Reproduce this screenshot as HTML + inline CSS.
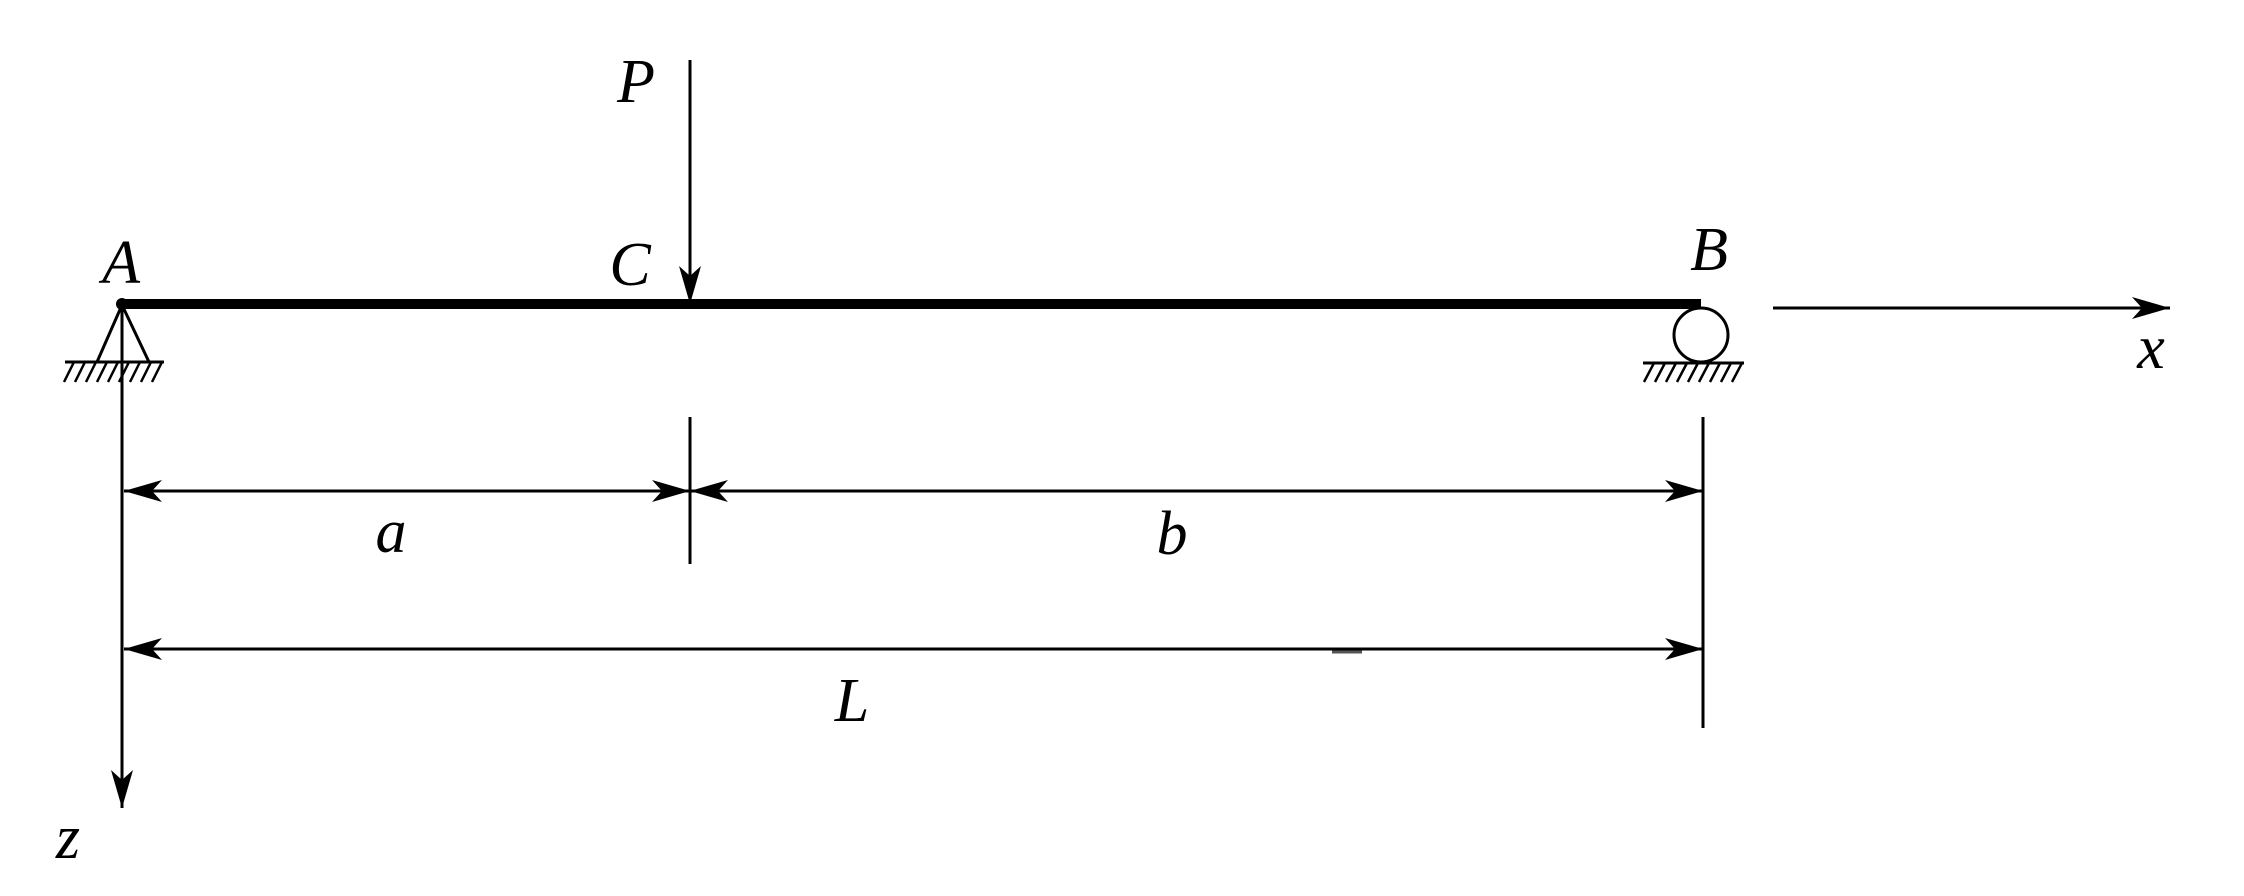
<!DOCTYPE html>
<html><head><style>
html,body{margin:0;padding:0;background:#fff;}
svg text{font-family:"Liberation Serif","Times New Roman",serif;font-style:italic;font-size:62px;fill:#000;}
</style></head><body>
<svg width="2244" height="891" viewBox="0 0 2244 891" xmlns="http://www.w3.org/2000/svg">
<defs>
<marker id="ah" markerWidth="40" markerHeight="22" refX="38" refY="11" orient="auto" markerUnits="userSpaceOnUse">
<path d="M0,0 L38,11 L0,22 L10,11 Z" fill="#000"/>
</marker>
</defs>
<g stroke="#000" fill="none">
<line x1="122" y1="304" x2="1701" y2="304" stroke-width="10"/>
<circle cx="122" cy="304" r="6" fill="#000" stroke="none"/>
<path d="M122,305 L97,362 M122,305 L149,362" stroke-width="3"/>
<line x1="65" y1="362" x2="164" y2="362" stroke-width="3"/>
<path d="M74,362 L64,382 M85,362 L75,382 M96,362 L86,382 M107,362 L97,382 M118,362 L108,382 M129,362 L119,382 M140,362 L130,382 M151,362 L141,382 M162,362 L152,382" stroke-width="2.5"/>
<line x1="122" y1="305" x2="122" y2="808" stroke-width="3" marker-end="url(#ah)"/>
<line x1="690" y1="60" x2="690" y2="304" stroke-width="3" marker-end="url(#ah)"/>
<circle cx="1701" cy="335" r="27" stroke-width="3"/>
<line x1="1643" y1="363" x2="1744" y2="363" stroke-width="3"/>
<path d="M1654,363 L1644,382 M1665,363 L1655,382 M1676,363 L1666,382 M1687,363 L1677,382 M1698,363 L1688,382 M1709,363 L1699,382 M1720,363 L1710,382 M1731,363 L1721,382 M1742,363 L1732,382" stroke-width="2.5"/>
<line x1="1773" y1="308" x2="2170" y2="308" stroke-width="3" marker-end="url(#ah)"/>
<line x1="690" y1="417" x2="690" y2="564" stroke-width="3"/>
<line x1="1703" y1="417" x2="1703" y2="728" stroke-width="3"/>
<line x1="690" y1="491" x2="124" y2="491" stroke-width="3" marker-end="url(#ah)"/>
<line x1="124" y1="491" x2="690" y2="491" stroke-width="3" marker-end="url(#ah)"/>
<line x1="1703" y1="491" x2="690" y2="491" stroke-width="3" marker-end="url(#ah)"/>
<line x1="690" y1="491" x2="1703" y2="491" stroke-width="3" marker-end="url(#ah)"/>
<line x1="1703" y1="649" x2="124" y2="649" stroke-width="3" marker-end="url(#ah)"/>
<line x1="124" y1="649" x2="1703" y2="649" stroke-width="3" marker-end="url(#ah)"/>
<line x1="1332" y1="652" x2="1362" y2="652" stroke-width="3" stroke="#555"/>
</g>
<text x="121" y="283" text-anchor="middle">A</text>
<text x="630" y="285" text-anchor="middle">C</text>
<text x="636" y="102" text-anchor="middle">P</text>
<text x="1709" y="270" text-anchor="middle">B</text>
<text x="2151" y="368" text-anchor="middle">x</text>
<text x="68" y="858" text-anchor="middle">z</text>
<text x="391" y="552" text-anchor="middle">a</text>
<text x="1172" y="554" text-anchor="middle">b</text>
<text x="852" y="721" text-anchor="middle">L</text>
</svg>
</body></html>
